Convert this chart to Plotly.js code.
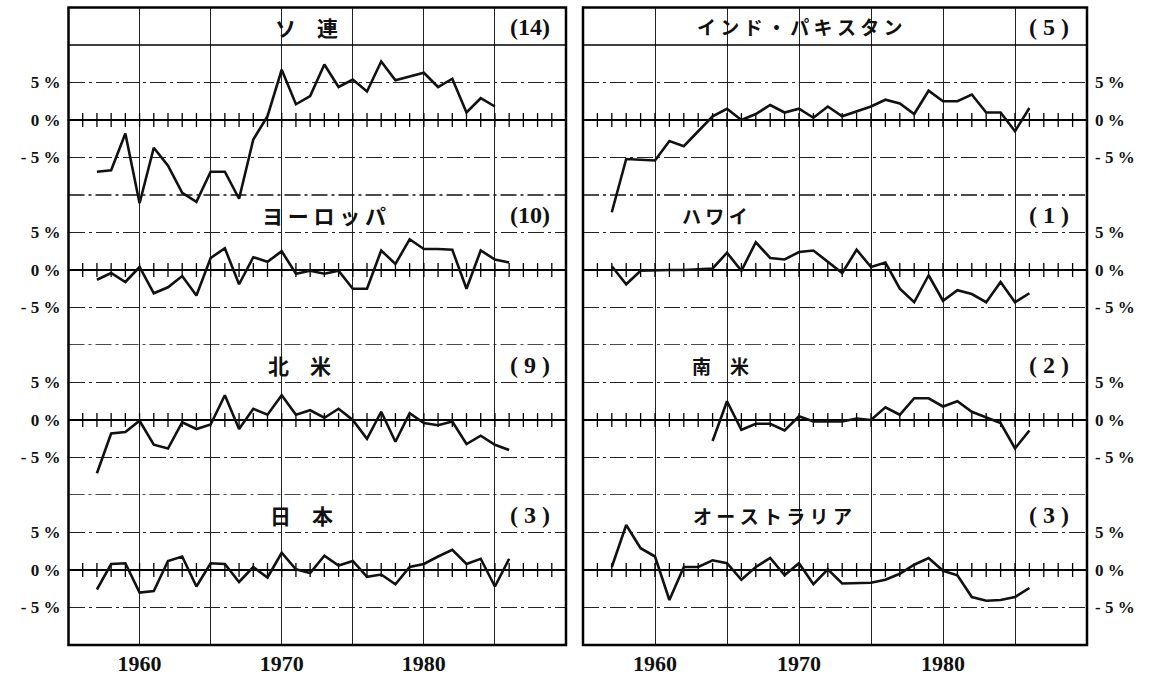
<!DOCTYPE html>
<html><head><meta charset="utf-8">
<script src="https://cdn.plot.ly/plotly-3.0.1.min.js"></script>
<style>html,body{margin:0;padding:0;background:#fff}#chart{width:1156px;height:680px}</style>
</head><body><div id="chart"></div>
<script>
// ---- data (annual change, %) ----
const years = [1957,1958,1959,1960,1961,1962,1963,1964,1965,1966,1967,1968,1969,1970,1971,1972,1973,1974,1975,1976,1977,1978,1979,1980,1981,1982,1983,1984,1985,1986];
const sovietUnion = [-6.9,-6.7,-1.8,-11.1,-3.7,-6.1,-9.7,-10.9,-6.9,-6.9,-10.5,-2.6,0.5,6.7,2.1,3.2,7.4,4.4,5.4,3.8,7.8,5.3,5.8,6.3,4.4,5.5,1.0,2.9,1.8,null];
const indiaPakistan = [-12.3,-5.2,-5.3,-5.4,-2.8,-3.5,-1.5,0.5,1.5,0.0,0.8,2.0,1.0,1.5,0.3,1.8,0.5,1.1,1.8,2.7,2.2,0.8,3.9,2.5,2.5,3.4,1.0,1.0,-1.5,1.6];
const europe = [-1.3,-0.4,-1.6,0.4,-3.1,-2.3,-0.8,-3.4,1.6,2.9,-1.9,1.7,1.1,2.5,-0.5,-0.1,-0.5,-0.1,-2.5,-2.5,2.6,0.8,4.1,2.8,2.8,2.7,-2.5,2.6,1.4,1.0];
const hawaii = [0.5,-1.9,-0.1,0.0,0.0,0.0,0.1,0.2,2.3,-0.1,3.7,1.6,1.4,2.4,2.6,1.1,-0.4,2.7,0.4,1.0,-2.5,-4.3,-0.7,-4.1,-2.7,-3.2,-4.3,-1.6,-4.3,-3.1];
const northAmerica = [-7.1,-1.8,-1.6,-0.1,-3.3,-3.8,-0.3,-1.2,-0.6,3.3,-1.2,1.5,0.7,3.3,0.7,1.3,0.3,1.5,0.0,-2.5,1.1,-2.9,0.9,-0.4,-0.7,-0.2,-3.2,-2.1,-3.3,-4.0];
const southAmerica = [null,null,null,null,null,null,null,-2.8,2.5,-1.3,-0.5,-0.5,-1.4,0.5,-0.2,-0.2,-0.2,0.2,0.0,1.7,0.7,2.9,2.9,1.8,2.5,1.1,0.4,-0.4,-3.8,-1.4];
const japan = [-2.6,0.8,0.9,-3.0,-2.8,1.2,1.8,-2.2,0.9,0.8,-1.6,0.4,-1.0,2.3,0.1,-0.4,1.9,0.6,1.2,-0.9,-0.6,-1.9,0.4,0.8,1.8,2.7,0.8,1.5,-2.2,1.5];
const australia = [0.4,6.0,2.9,1.8,-4.0,0.4,0.4,1.3,0.9,-1.3,0.4,1.6,-0.7,0.9,-1.9,0.1,-1.8,-1.7,-1.7,-1.3,-0.5,0.7,1.6,-0.1,-0.7,-3.6,-4.1,-4.0,-3.6,-2.4];

const panelTitles = ['ソ　連','イ ン ド ・ パ キ ス タ ン','ヨ ー ロ ッ パ','ハ ワ イ','北　米','南　米','日　本','オ ー ス ト ラ リ ア'];
const panelCounts = ['(14)','( 5 )','(10)','( 1 )','( 9 )','( 2 )','( 3 )','( 3 )'];
const xTickVals = [1960,1965,1970,1975,1980,1985];
const xTickText = ['1960','','1970','','1980',''];
const yTickVals = [-5,0,5];
const yTickText = ['- 5 %','0 %','5 %'];

const series = [sovietUnion, indiaPakistan, europe, hawaii, northAmerica, southAmerica, japan, australia];

// ---- geometry ----
const W = 1156, H = 680;
const colPx = [[68.5, 566], [583, 1087]];
const zeroPx = [120, 270, 420, 570];
const pxPerUnit = 7.5;
const py = p => 1 - p / H;

const tickYears = [];
for (let y = 1956; y <= 1989; y++) tickYears.push(y);

const serif = {family: 'Liberation Serif, serif', color: '#111', weight: 700};
const gridDash = '16px,4px,3px,4px';

const layout = {
  width: W, height: H,
  margin: {l: 0, r: 0, t: 0, b: 0},
  paper_bgcolor: '#fff', plot_bgcolor: 'rgba(0,0,0,0)',
  showlegend: false,
  shapes: [], annotations: []
};

['xaxis', 'xaxis2'].forEach((name, c) => {
  layout[name] = {
    domain: [colPx[c][0] / W, colPx[c][1] / W],
    range: [1955, 1990],
    anchor: c === 0 ? 'y7' : 'y8',
    tickmode: 'array', tickvals: xTickVals, ticktext: xTickText,
    ticks: '', showline: false, zeroline: false,
    showgrid: true, gridcolor: '#222', gridwidth: 1,
    tickfont: Object.assign({size: 22}, serif),
    ticklabelstandoff: 3,
    fixedrange: true
  };
});

const traces = [];
for (let i = 0; i < 8; i++) {
  const col = i % 2, row = Math.floor(i / 2);
  const yName = i === 0 ? 'yaxis' : 'yaxis' + (i + 1);
  const yRef = i === 0 ? 'y' : 'y' + (i + 1);
  const xRef = col === 0 ? 'x' : 'x2';
  const z = zeroPx[row];
  let top, bottom, range;
  if (row === 0) { range = [-13, 15]; top = z - 15 * pxPerUnit; bottom = z + 13 * pxPerUnit; }
  else { range = [-10, 10]; top = z - 10 * pxPerUnit; bottom = z + 10 * pxPerUnit; }
  layout[yName] = {
    domain: [py(bottom), py(top)],
    range: range,
    anchor: xRef,
    side: col === 0 ? 'left' : 'right',
    tickmode: 'array', tickvals: yTickVals, ticktext: yTickText,
    ticks: '', showline: false,
    showgrid: true, gridcolor: '#222', gridwidth: 1.2, griddash: gridDash,
    zeroline: true, zerolinecolor: '#000', zerolinewidth: 1.6,
    tickfont: Object.assign({size: 17}, serif),
    ticklabelstandoff: 7,
    fixedrange: true
  };
  // year ticks along zero line
  traces.push({
    x: tickYears, y: tickYears.map(() => 0), xaxis: xRef, yaxis: yRef,
    mode: 'markers', hoverinfo: 'skip',
    marker: {symbol: 'line-ns-open', size: 10, color: '#000', line: {width: 1.3, color: '#000'}}
  });
  // data line
  traces.push({
    x: years, y: series[i], xaxis: xRef, yaxis: yRef,
    mode: 'lines', connectgaps: false, hoverinfo: 'skip',
    line: {color: '#111', width: 2.6}
  });
  // title strip line for top row
  if (row === 0) {
    layout.shapes.push({type: 'line', xref: xRef + ' domain', yref: yRef, x0: 0, x1: 1, y0: 10, y1: 10,
      line: {color: '#000', width: 1.6}});
  }
  // row separator
  if (row < 3) {
    layout.shapes.push({type: 'line', xref: xRef + ' domain', yref: yRef, x0: 0, x1: 1, y0: -10, y1: -10,
      line: {color: '#111', width: 1.5, dash: gridDash}});
  }
  // titles
  const titleY = row === 0 ? 12.4 : 7.3;
  const titleX = [0.478, 0.43, 0.514, 0.262, 0.464, 0.272, 0.468, 0.375][i];
  layout.annotations.push({
    xref: xRef + ' domain', yref: yRef, x: titleX, y: titleY,
    text: panelTitles[i], showarrow: false, xanchor: 'center', yanchor: 'middle',
    font: {family: 'Noto Sans CJK JP', size: (i % 2 === 0 ? 21 : 19), color: '#111', weight: 700}
  });
  layout.annotations.push({
    xref: xRef + ' domain', yref: yRef, x: col === 0 ? 0.927 : 0.925, y: titleY,
    text: panelCounts[i], showarrow: false, xanchor: 'center', yanchor: 'middle',
    font: Object.assign({size: 24}, serif)
  });
}

// column frames
colPx.forEach(c => {
  layout.shapes.push({type: 'rect', xref: 'paper', yref: 'paper',
    x0: c[0] / W, x1: c[1] / W, y0: py(645), y1: py(7.5),
    line: {color: '#000', width: 2.5}});
});

Plotly.newPlot('chart', traces, layout, {staticPlot: true, displayModeBar: false});
</script>
</body></html>
